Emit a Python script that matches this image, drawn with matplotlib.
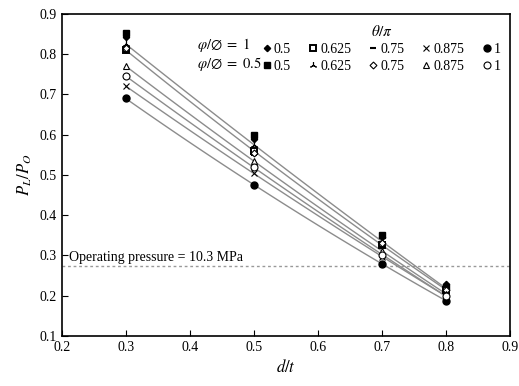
import numpy as np
import matplotlib
matplotlib.use("Agg")
from matplotlib import pyplot as plt

plt.rcParams["font.family"] = ["Liberation Serif", "DejaVu Serif"]
plt.rcParams["mathtext.fontset"] = "stix"

d_t = [0.3, 0.5, 0.7, 0.8]
theta_labels = ["0.5", "0.625", "0.75", "0.875", "1"]

# P_L/P_O for phi/O = 1, per theta/pi
phi1 = {
    "0.5": [0.843, 0.590, 0.345, 0.229],
    "0.625": [0.810, 0.560, 0.325, 0.215],
    "0.75": [0.805, 0.550, 0.320, 0.210],
    "0.875": [0.720, 0.505, 0.295, 0.200],
    "1": [0.690, 0.475, 0.280, 0.187],
}
# P_L/P_O for phi/O = 0.5, per theta/pi
phi05 = {
    "0.5": [0.852, 0.600, 0.350, 0.222],
    "0.625": [0.825, 0.575, 0.335, 0.218],
    "0.75": [0.815, 0.555, 0.330, 0.215],
    "0.875": [0.770, 0.535, 0.310, 0.205],
    "1": [0.745, 0.520, 0.300, 0.200],
}
fit_series = [("phi05", "0.625"), ("phi1", "0.625"), ("phi05", "0.875"),
              ("phi05", "1"), ("phi1", "0.875"), ("phi1", "1")]

operating_pressure = 0.275

star = (3, 2, 0)
style1 = {
    "0.5": dict(marker="D", ms=3.2, mfc="black", mec="black"),
    "0.625": dict(marker="s", ms=5, mfc="white", mec="black", mew=1.4),
    "0.75": dict(marker="_", ms=5, mec="black", mew=1.5),
    "0.875": dict(marker="x", ms=5, mec="black", mew=0.8),
    "1": dict(marker="o", ms=5, mfc="black", mec="black"),
}
style05 = {
    "0.5": dict(marker="s", ms=5, mfc="black", mec="black"),
    "0.625": dict(marker=star, ms=5, mec="black", mew=0.8),
    "0.75": dict(marker="D", ms=3.5, mfc="white", mec="black", mew=0.8),
    "0.875": dict(marker="^", ms=4.5, mfc="white", mec="black", mew=0.8),
    "1": dict(marker="o", ms=5, mfc="white", mec="black", mew=0.8),
}

fig = plt.figure(figsize=(5.19, 3.86), dpi=100)
ax = fig.add_axes([0.119, 0.1295, 0.864, 0.8345])

data = {"phi1": phi1, "phi05": phi05}
x_fit = np.linspace(0.3, 0.8, 50)
for grp, key in fit_series:
    c = np.polyfit(d_t, data[grp][key], 2)
    ax.plot(x_fit, np.polyval(c, x_fit), color="#8c8c8c", lw=1.0, zorder=1)

handles = []
for key in theta_labels:
    h1, = ax.plot(d_t, phi1[key], ls="none", zorder=3, **style1[key])
    h2, = ax.plot(d_t, phi05[key], ls="none", zorder=3, **style05[key])
    handles += [h1, h2]
labels = []
for key in theta_labels:
    labels += [key, key]

ax.axhline(operating_pressure, color="#999999", ls=(0, (2, 2)), lw=1.0, zorder=0)
ax.text(0.212, operating_pressure + 0.012, "Operating pressure = 10.3 MPa", fontsize=10)

leg = ax.legend(handles, labels, ncol=5, loc="upper right", bbox_to_anchor=(1.0, 1.0),
                frameon=False, fontsize=10, handlelength=0.6, handletextpad=0.2,
                columnspacing=1.3, labelspacing=0.3, title=r"$\theta/\pi$",
                title_fontsize=11, borderaxespad=0.3)
ax.text(0.301, 0.873,
        "$\\varphi/\\varnothing\\ =\\ 1$\n$\\varphi/\\varnothing\\ =\\ 0.5$",
        transform=ax.transAxes, fontsize=10.5, ha="left", va="center",
        multialignment="left", linespacing=1.1)

ax.set_xlim(0.2, 0.9)
ax.set_ylim(0.1, 0.9)
ax.set_xticks(np.arange(0.2, 0.91, 0.1))
ax.set_yticks(np.arange(0.1, 0.91, 0.1))
ax.xaxis.set_major_formatter(plt.FormatStrFormatter("%.1f"))
ax.yaxis.set_major_formatter(plt.FormatStrFormatter("%.1f"))
ax.tick_params(direction="in", labelsize=10, length=4, width=0.8)
for s in ax.spines.values():
    s.set_linewidth(1.2)
ax.set_xlabel(r"$d/t$", fontsize=12)
ax.set_ylabel(r"$P_L/P_O$", fontsize=12)

fig.savefig("out.png", dpi=100)
